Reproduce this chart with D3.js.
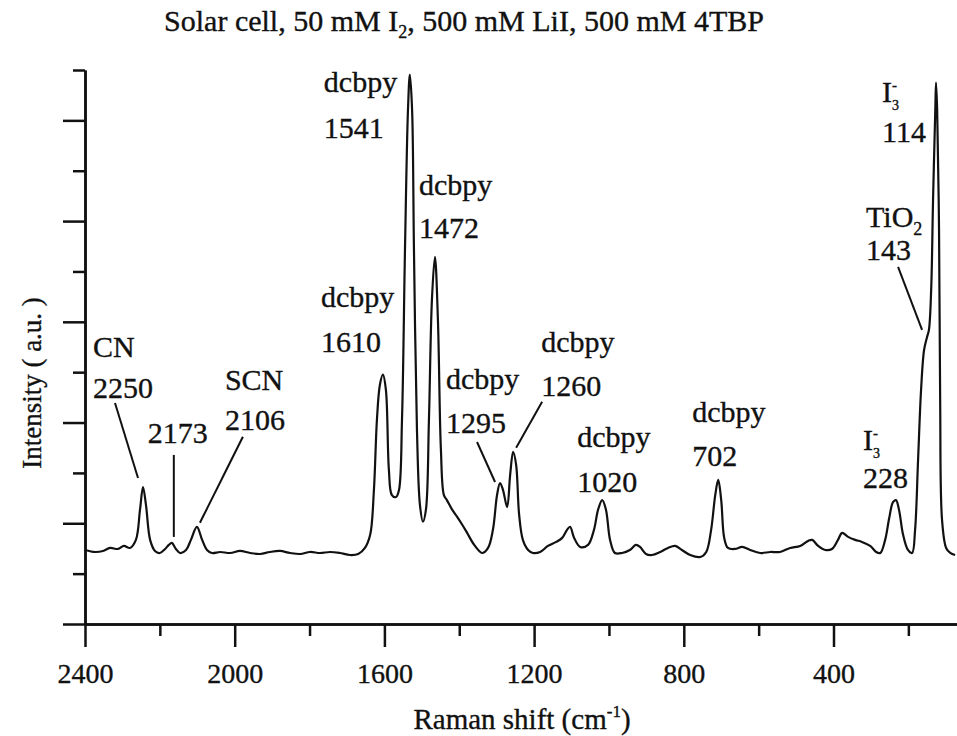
<!DOCTYPE html>
<html>
<head>
<meta charset="utf-8">
<script src="https://cdn.jsdelivr.net/npm/d3@7"></script>
<style>
body { margin: 0; background: #fff; }
svg text { font-family: "Liberation Serif", "Times New Roman", serif; fill: #111; stroke: #111; stroke-width: 0.35px; }
</style>
</head>
<body>
<svg id="chart" width="957" height="736"></svg>
<script>
// Raman spectrum (intensity in axis tick units)
var ramanShift = [2400, 2373, 2352, 2333, 2312, 2296, 2280, 2264, 2253, 2245, 2237, 2226, 2213, 2200, 2186, 2176, 2168, 2157, 2146, 2130,
  2117, 2101, 2087, 2074, 2061, 2039, 2012, 1986, 1959, 1932, 1906, 1879, 1852, 1825, 1799, 1772, 1745, 1719, 1692, 1670,
  1652, 1638, 1628, 1620, 1612, 1604, 1596, 1588, 1580, 1569, 1561, 1553, 1545, 1537, 1532, 1526, 1521, 1513, 1505, 1497,
  1489, 1481, 1473, 1465, 1457, 1449, 1441, 1433, 1419, 1406, 1392, 1379, 1360, 1339, 1323, 1310, 1299, 1291, 1283, 1272,
  1264, 1256, 1248, 1240, 1230, 1216, 1203, 1184, 1163, 1141, 1125, 1112, 1104, 1093, 1077, 1056, 1040, 1029, 1018, 1008,
  997, 984, 965, 944, 928, 917, 901, 885, 863, 842, 823, 805, 783, 756, 740, 727, 716, 708, 700, 692,
  682, 663, 644, 623, 596, 569, 543, 516, 489, 468, 457, 441, 422, 404, 388, 377, 361, 342, 324, 302,
  286, 275, 262, 251, 241, 233, 225, 214, 201, 190, 182, 174, 166, 158, 150, 145, 139, 134, 128, 126,
  123, 118, 115, 110, 99, 88, 75];
var intensity = [1.47, 1.43, 1.45, 1.51, 1.49, 1.55, 1.51, 1.67, 2.27, 2.72, 2.36, 1.67, 1.45, 1.41, 1.49, 1.57, 1.61, 1.49, 1.41, 1.47,
  1.67, 1.93, 1.67, 1.47, 1.41, 1.43, 1.41, 1.45, 1.41, 1.39, 1.43, 1.45, 1.41, 1.39, 1.43, 1.41, 1.43, 1.41, 1.37, 1.39,
  1.51, 1.77, 2.66, 4.05, 4.75, 4.95, 4.65, 3.06, 2.56, 2.52, 2.66, 4.05, 7.43, 10.21, 10.91, 10.21, 7.43, 3.85, 2.36, 2.03,
  2.27, 4.05, 6.44, 7.29, 6.04, 3.46, 2.56, 2.46, 2.27, 2.13, 1.97, 1.81, 1.57, 1.41, 1.51, 1.87, 2.56, 2.80, 2.66, 2.32,
  2.96, 3.42, 3.16, 2.17, 1.67, 1.47, 1.41, 1.43, 1.55, 1.63, 1.71, 1.87, 1.93, 1.71, 1.53, 1.57, 1.87, 2.27, 2.46, 2.27,
  1.67, 1.41, 1.41, 1.47, 1.57, 1.53, 1.39, 1.37, 1.43, 1.51, 1.55, 1.47, 1.37, 1.33, 1.43, 1.87, 2.56, 2.86, 2.46, 1.71,
  1.51, 1.49, 1.53, 1.47, 1.41, 1.43, 1.43, 1.51, 1.55, 1.65, 1.67, 1.55, 1.47, 1.49, 1.67, 1.81, 1.73, 1.67, 1.63, 1.55,
  1.43, 1.41, 1.67, 2.11, 2.42, 2.46, 2.27, 1.77, 1.47, 1.41, 1.87, 3.26, 4.65, 5.44, 5.70, 5.84, 6.64, 8.42, 10.21, 10.75,
  10.21, 7.83, 4.45, 2.07, 1.51, 1.41, 1.37];

var xMajorTicks = [2400, 2000, 1600, 1200, 800, 400];
var xMinorTicks = [2200, 1800, 1400, 1000, 600, 200];
var yMajorTicks = [0, 2, 4, 6, 8, 10];
var yMinorTicks = [1, 3, 5, 7, 9, 11];

// band assignments
var peakNames = ["CN", "", "SCN", "dcbpy", "dcbpy", "dcbpy", "dcbpy", "dcbpy", "dcbpy", "dcbpy", "I3-", "TiO2", "I3-"];
var peakNumbers = ["2250", "2173", "2106", "1610", "1541", "1472", "1295", "1260", "1020", "702", "228", "143", "114"];
var peakShift = [2245, 2168, 2101, 1604, 1532, 1465, 1291, 1256, 1018, 708, 233, 150, 126];
var peakHeight = [2.72, 1.61, 1.93, 4.95, 10.91, 7.29, 2.80, 3.42, 2.46, 2.86, 2.46, 5.70, 10.75];

// where each label sits relative to its peak (px)
var labelLayout = [
  {dx: -50, nameDy: -130, numDy: -89, leader: [-28, -84, -5, -9]},
  {dx: -24, nameDy: 0, numDy: -100, leader: [2, -88, 2, -6]},
  {dx: 28, nameDy: -137, numDy: -97, leader: [46, -90, 3, -4]},
  {dx: -62, nameDy: -68, numDy: -23, leader: null},
  {dx: -86, nameDy: 17, numDy: 63, leader: null},
  {dx: -16, nameDy: -62, numDy: -19, leader: null},
  {dx: -54, nameDy: -94, numDy: -50, leader: [-23, -41, -5, -1]},
  {dx: 28, nameDy: -100, numDy: -56, leader: [29, -50, 3, -4]},
  {dx: -25, nameDy: -53, numDy: -8, leader: null},
  {dx: -26, nameDy: -58, numDy: -14, leader: null},
  {dx: -33, nameDy: -50, numDy: -12, leader: null},
  {dx: -61, nameDy: -110, numDy: -77, leader: [-29, -70, -5, -7]},
  {dx: -54, nameDy: 19, numDy: 59, leader: null}
];

var width = 957, height = 736,
  margin = {top: 70, right: 0, bottom: 112, left: 85},
  svg = d3.select("#chart");

var x = d3.scaleLinear().domain([2400, 70]).range([margin.left, width - margin.right]),
  y = d3.scaleLinear().domain([0, 11]).range([height - margin.bottom, margin.top]);

var ink = "#111";

// title
var title = svg.append("text")
  .attr("x", 464).attr("y", 31)
  .attr("text-anchor", "middle")
  .style("font-size", "30px");
title.append("tspan").text("Solar cell, 50 mM I");
title.append("tspan").attr("dy", 7).style("font-size", "18px").text("2");
title.append("tspan").attr("dy", -7).text(", 500 mM LiI, 500 mM 4TBP");

// x axis, major + minor
svg.append("g")
  .attr("class", "axis axis--x")
  .attr("transform", "translate(0," + y(0) + ")")
  .call(d3.axisBottom(x).tickValues(xMajorTicks).tickSize(23).tickSizeOuter(0).tickPadding(16).tickFormat(d3.format("d")))
  .style("font-size", "28px");
svg.append("g")
  .attr("class", "axis axis--x-minor")
  .attr("transform", "translate(0," + y(0) + ")")
  .call(d3.axisBottom(x).tickValues(xMinorTicks).tickSize(12).tickSizeOuter(0).tickFormat(""));

// y axis, no labels
svg.append("g")
  .attr("class", "axis axis--y")
  .attr("transform", "translate(" + x(2400) + ",0)")
  .call(d3.axisLeft(y).tickValues(yMajorTicks).tickSize(22).tickSizeOuter(0).tickFormat(""));
svg.append("g")
  .attr("class", "axis axis--y-minor")
  .attr("transform", "translate(" + x(2400) + ",0)")
  .call(d3.axisLeft(y).tickValues(yMinorTicks).tickSize(12).tickSizeOuter(0).tickFormat(""));

svg.selectAll(".axis path, .axis line")
  .attr("stroke", ink)
  .attr("stroke-width", 2.5);
svg.selectAll(".axis text")
  .attr("fill", ink)
  .style("font-family", "'Liberation Serif', serif");

// axis titles
var xt = svg.append("text")
  .attr("x", 522).attr("y", 729)
  .attr("text-anchor", "middle")
  .style("font-size", "29px");
xt.append("tspan").text("Raman shift (cm");
xt.append("tspan").attr("dy", -12).style("font-size", "17px").text("-1");
xt.append("tspan").attr("dy", 12).text(")");

svg.append("text")
  .attr("transform", "translate(41,383) rotate(-90)")
  .attr("text-anchor", "middle")
  .style("font-size", "27px")
  .text("Intensity ( a.u. )");

// spectrum
var points = ramanShift.map(function(s, i) { return [s, intensity[i]]; });
var line = d3.line()
  .x(function(d) { return x(d[0]); })
  .y(function(d) { return y(d[1]); })
  .curve(d3.curveCatmullRom.alpha(0.5));

svg.append("path")
  .datum(points)
  .attr("fill", "none")
  .attr("stroke", ink)
  .attr("stroke-width", 2.2)
  .attr("stroke-linejoin", "round")
  .attr("d", line);

// peak labels
function writeName(t, name) {
  if (name === "I3-") {
    t.append("tspan").text("I");
    t.append("tspan").attr("dy", 8).style("font-size", "14px").text("3");
    t.append("tspan").attr("dx", -7).attr("dy", -20).style("font-size", "15px").text("-");
  } else if (name === "TiO2") {
    t.append("tspan").text("TiO");
    t.append("tspan").attr("dy", 8).style("font-size", "18px").text("2");
  } else {
    t.text(name);
  }
}

peakNames.forEach(function(name, i) {
  var px = x(peakShift[i]), py = y(peakHeight[i]), L = labelLayout[i];
  if (name !== "") {
    var t = svg.append("text")
      .attr("x", px + L.dx).attr("y", py + L.nameDy)
      .style("font-size", "30px");
    writeName(t, name);
  }
  svg.append("text")
    .attr("x", px + L.dx).attr("y", py + L.numDy)
    .style("font-size", "30px")
    .text(peakNumbers[i]);
  if (L.leader) {
    svg.append("line")
      .attr("x1", px + L.leader[0]).attr("y1", py + L.leader[1])
      .attr("x2", px + L.leader[2]).attr("y2", py + L.leader[3])
      .attr("stroke", ink)
      .attr("stroke-width", 2);
  }
});
</script>
</body>
</html>
